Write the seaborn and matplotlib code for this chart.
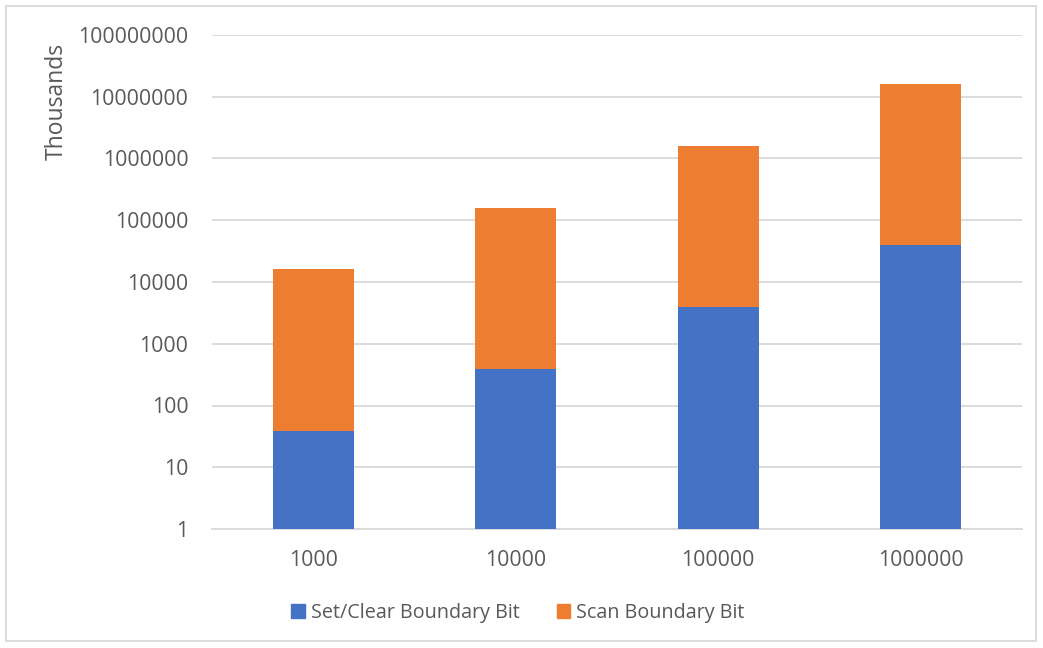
import matplotlib
matplotlib.use("Agg")
import matplotlib.pyplot as plt
import matplotlib.patches as mpatches
import matplotlib.ticker as mticker
import seaborn as sns
import pandas as pd

# Problem sizes (x categories)
sizes = ["1000", "10000", "100000", "1000000"]
# Time in thousands for each operation
set_clear = [39, 392, 3950, 39500]
scan = [15900, 159000, 1596000, 16200000]
series_names = ["Set/Clear Boundary Bit", "Scan Boundary Bit"]
y_ticks = [1, 10, 100, 1000, 10000, 100000, 1000000, 10000000, 100000000]

blue = "#4472C4"
orange = "#ED7D31"
text_color = "#595959"
grid_color = "#D9D9D9"

sns.set_theme(style="white")
plt.rcParams["font.family"] = ["Open Sans", "DejaVu Sans"]

df = pd.DataFrame({"size": sizes, "set_clear": set_clear, "scan": scan})
df["total"] = df["set_clear"] + df["scan"]

fig = plt.figure(figsize=(10.43, 6.48), dpi=100)
ax = fig.add_axes([212 / 1043, 1 - 529 / 648, (1022 - 212) / 1043, (529 - 35) / 648])

# Stacked bars: full stack in orange, lower segment in blue on top of it
sns.barplot(data=df, x="size", y="total", color=orange, width=0.4,
            saturation=1, linewidth=0, ax=ax, zorder=3)
sns.barplot(data=df, x="size", y="set_clear", color=blue, width=0.4,
            saturation=1, linewidth=0, ax=ax, zorder=4)

ax.set_yscale("log")
ax.set_ylim(1, 1e8)
ax.set_xlim(-0.5, 3.5)
ax.yaxis.set_major_locator(mticker.FixedLocator(y_ticks))
ax.yaxis.set_minor_locator(mticker.NullLocator())
ax.yaxis.set_major_formatter(mticker.FuncFormatter(lambda v, p: f"{int(round(v))}"))
ax.grid(axis="y", color=grid_color, linewidth=1.3, zorder=0)
ax.set_axisbelow(True)
for s in ["top", "right", "left"]:
    ax.spines[s].set_visible(False)
ax.spines["bottom"].set_color(grid_color)
ax.spines["bottom"].set_linewidth(1.3)
ax.tick_params(axis="both", length=0, labelsize=15.3, colors=text_color)
ax.tick_params(axis="y", pad=17)
ax.tick_params(axis="x", pad=15)
ax.set_xlabel("")
ax.set_ylabel("")

fig.text(57 / 1043, 1 - 101 / 648, "Thousands", rotation=90, ha="center",
         va="center", fontsize=16.5, color=text_color)

handles = [mpatches.Patch(color=blue, label=series_names[0]),
           mpatches.Patch(color=orange, label=series_names[1])]
fig.legend(handles=handles, loc="center", bbox_to_anchor=(518 / 1043, 1 - 613 / 648),
           ncol=2, frameon=False, fontsize=14.2, labelcolor=text_color,
           handlelength=0.68, handleheight=0.68, handletextpad=0.3,
           columnspacing=1.9)

# Light chart-area border
fig.patches.append(mpatches.Rectangle((6 / 1043, 1 - 641 / 648), 1030 / 1043, 635 / 648,
                                      transform=fig.transFigure, fill=False,
                                      edgecolor=grid_color, linewidth=1.3))

fig.savefig("out.png", dpi=100, facecolor="white")
